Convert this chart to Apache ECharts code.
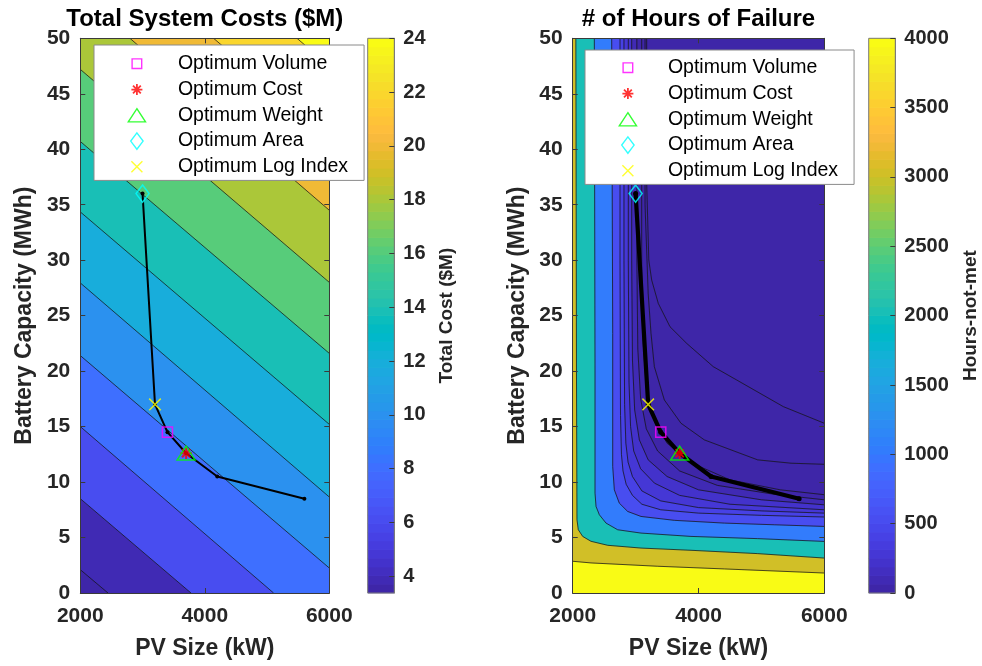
<!DOCTYPE html>
<html><head><meta charset="utf-8">
<script src="https://cdn.jsdelivr.net/npm/echarts@6/dist/echarts.min.js"></script>
<style>html,body{margin:0;padding:0;background:#fff}#c{width:982px;height:666px}</style>
</head><body><div id="c"></div>
<script>
// ================= DATA =================
const pvRange = [2000, 6000];
const battRange = [0, 50];

// Left panel: total system cost ($M) contour levels and the contour lines ([PV kW, Battery MWh])
const costLevels = [4, 6, 8, 10, 12, 14, 16, 18, 20, 22, 24];
const costClim = [3.38, 24];
const costLines = [
  [[2000, 2.1], [2445, 0]],
  [[2000, 8.5], [3778, 0]],
  [[2000, 15.0], [5105, 0]],
  [[2000, 21.4], [6000, 2.25]],
  [[2000, 27.95], [6000, 8.65]],
  [[2000, 34.35], [6000, 15.2]],
  [[2000, 40.7], [6000, 21.6]],
  [[2000, 47.2], [6000, 28.0]],
  [[2797, 50], [6000, 34.5]],
  [[4141, 50], [6000, 41.1]],
  [[5481, 50], [6000, 47.5]]
];

// Right panel: hours of failure contour levels and lines
const hoursLevels = [10, 25, 50, 100, 200, 300, 400, 500, 1000, 2000, 3000, 4000];
const hoursClim = [0, 4000];
const hoursLines = [
  [[3176, 50], [3176, 37], [3210, 30], [3256, 28.2], [3361, 26.1], [3547, 24], [3812, 22.5], [4235, 20.4], [4607, 19.2], [5348, 16.8], [6000, 15.3]],
  [[3150, 50], [3150, 35], [3200, 27], [3245, 23.4], [3298, 20.4], [3457, 17.4], [3722, 15.3], [4093, 13.8], [4517, 12.9], [4941, 12.0], [5470, 11.7], [6000, 11.6]],
  [[3097, 50], [3097, 30], [3115, 23], [3170, 18.5], [3280, 15.8], [3500, 13.5], [3900, 11.7], [4500, 10.2], [5300, 9.3], [6000, 8.86]],
  [[3020, 50], [3020, 30], [3035, 22], [3080, 17.5], [3170, 14.8], [3350, 12.8], [3700, 11], [4300, 9.7], [5200, 8.9], [6000, 8.4]],
  [[2938, 50], [2938, 30], [2950, 21], [2985, 16.5], [3060, 13.8], [3200, 12], [3500, 10.5], [4000, 9.3], [5000, 8.4], [6000, 7.95]],
  [[2884, 50], [2884, 30], [2895, 19], [2920, 15], [2970, 12.8], [3080, 11.2], [3300, 9.9], [3700, 8.8], [4500, 8.0], [6000, 7.5]],
  [[2815, 50], [2815, 30], [2825, 17], [2845, 13.5], [2880, 11.8], [2950, 10.5], [3100, 9.2], [3400, 8.3], [4000, 7.7], [5000, 7.4], [6000, 7.2]],
  [[2752, 50], [2752, 30], [2760, 16], [2775, 12.5], [2800, 11], [2850, 9.8], [2950, 8.8], [3100, 8.0], [3400, 7.5], [4000, 7.2], [5000, 7.0], [6000, 6.85]],
  [[2620, 50], [2636, 23.4], [2636, 11.4], [2662, 9.3], [2741, 8.1], [2874, 7.35], [3086, 6.9], [3616, 6.55], [4411, 6.3], [5206, 6.15], [6000, 6.0]],
  [[2344, 50], [2355, 20], [2355, 9.0], [2371, 7.8], [2424, 7.05], [2530, 6.3], [2715, 5.7], [3086, 5.4], [3881, 5.1], [4941, 4.9], [6000, 4.65]],
  [[2050, 50], [2060, 20], [2068, 6.6], [2089, 5.7], [2159, 5.1], [2291, 4.66], [2556, 4.3], [3086, 4.05], [3881, 3.85], [4941, 3.55], [6000, 3.15]],
  [[2000, 2.86], [2291, 2.71], [3351, 2.41], [4411, 2.17], [6000, 1.8]]
];

// Optimum trade-off path and the optimum points
const pathPV = [3000, 3200, 3400, 3700, 4200, 5600];
const pathBatt = [36, 17, 14.5, 12.6, 10.5, 8.5];
const optNames = ['Optimum Volume', 'Optimum Cost', 'Optimum Weight', 'Optimum Area', 'Optimum Log Index'];
const optPV = [3400, 3700, 3700, 3000, 3200];
const optBatt = [14.5, 12.6, 12.6, 36, 17];

const costBarTicks = [4, 6, 8, 10, 12, 14, 16, 18, 20, 22, 24];
const hoursBarTicks = [0, 500, 1000, 1500, 2000, 2500, 3000, 3500, 4000];

// ================= STYLE =================
const FONT = "'Liberation Sans', Arial, Helvetica, sans-serif";
const AX = '#3a3a3a', TXT = '#262626';
const PARULA = [
[0.2422,0.1504,0.6603],[0.2504,0.1650,0.7076],[0.2578,0.1818,0.7511],[0.2647,0.1978,0.7952],
[0.2706,0.2147,0.8364],[0.2751,0.2342,0.8710],[0.2783,0.2559,0.8991],[0.2803,0.2782,0.9221],
[0.2813,0.3006,0.9414],[0.2810,0.3228,0.9579],[0.2795,0.3447,0.9717],[0.2760,0.3667,0.9829],
[0.2699,0.3892,0.9906],[0.2602,0.4123,0.9952],[0.2440,0.4358,0.9988],[0.2206,0.4603,0.9973],
[0.1963,0.4847,0.9892],[0.1834,0.5074,0.9798],[0.1786,0.5289,0.9682],[0.1764,0.5499,0.9520],
[0.1687,0.5703,0.9359],[0.1540,0.5902,0.9218],[0.1460,0.6091,0.9079],[0.1380,0.6276,0.8973],
[0.1248,0.6459,0.8883],[0.1113,0.6635,0.8763],[0.0952,0.6798,0.8598],[0.0689,0.6948,0.8394],
[0.0297,0.7082,0.8163],[0.0036,0.7203,0.7917],[0.0067,0.7312,0.7660],[0.0433,0.7411,0.7394],
[0.0964,0.7500,0.7120],[0.1408,0.7584,0.6842],[0.1717,0.7670,0.6554],[0.1938,0.7758,0.6251],
[0.2161,0.7843,0.5923],[0.2470,0.7918,0.5567],[0.2906,0.7973,0.5188],[0.3406,0.8008,0.4789],
[0.3909,0.8029,0.4354],[0.4456,0.8024,0.3909],[0.5044,0.7993,0.3480],[0.5616,0.7942,0.3045],
[0.6174,0.7876,0.2612],[0.6720,0.7793,0.2227],[0.7242,0.7698,0.1910],[0.7738,0.7598,0.1646],
[0.8203,0.7498,0.1535],[0.8634,0.7406,0.1596],[0.9035,0.7330,0.1774],[0.9393,0.7288,0.2100],
[0.9728,0.7298,0.2394],[0.9956,0.7434,0.2371],[0.9970,0.7659,0.2199],[0.9952,0.7893,0.2028],
[0.9892,0.8136,0.1885],[0.9786,0.8386,0.1766],[0.9676,0.8639,0.1643],[0.9610,0.8890,0.1537],
[0.9597,0.9135,0.1423],[0.9628,0.9373,0.1265],[0.9691,0.9606,0.1064],[0.9769,0.9839,0.0805]];
function rgb(c) { return 'rgb(' + c.map(x => Math.round(x * 255)).join(',') + ')'; }
function parula(v, clim) {
  let k = Math.floor((v - clim[0]) / (clim[1] - clim[0]) * 64);
  k = Math.max(0, Math.min(63, k));
  return rgb(PARULA[k]);
}
const plain = v => String(Math.round(v * 1000) / 1000);

// marker icons (20x20 frame so all share one scale)
const FRAME = 'M0,0L0,0M20,20L20,20';
const SYM = [
  'path://' + FRAME + 'M5.2,5.2L14.8,5.2L14.8,14.8L5.2,14.8Z',
  'path://' + FRAME + 'M10,4.5L10,15.5M4.5,10L15.5,10M6.1,6.1L13.9,13.9M13.9,6.1L6.1,13.9',
  'path://' + FRAME + 'M10,3.3L18.6,16.5L1.4,16.5Z',
  'path://' + FRAME + 'M10,1.8L16.2,10L10,18.2L3.8,10Z',
  'path://' + FRAME + 'M4.5,4.5L15.5,15.5M15.5,4.5L4.5,15.5'
];
const SYMCOL = ['#ff00ff', '#ff0000', '#00ff00', '#00ffff', '#ffff00'];

// ================= contour geometry helpers =================
function edgeParam(p) {
  const u = (p[0] - pvRange[0]) / (pvRange[1] - pvRange[0]);
  const v = (p[1] - battRange[0]) / (battRange[1] - battRange[0]);
  const e = 1e-3;
  if (u <= e) return v;
  if (v >= 1 - e) return 1 + u;
  if (u >= 1 - e) return 2 + (1 - v);
  return 3 + (1 - u);
}
const CORNERS = [[1, [pvRange[0], battRange[1]]], [2, [pvRange[1], battRange[1]]], [3, [pvRange[1], battRange[0]]]];
function regionBeyond(line) {
  const s0 = edgeParam(line[0]), s1 = edgeParam(line[line.length - 1]);
  const pts = line.slice();
  for (let k = CORNERS.length - 1; k >= 0; k--) {
    if (CORNERS[k][0] > s0 && CORNERS[k][0] < s1) pts.push(CORNERS[k][1]);
  }
  return pts;
}
const RECT = [[pvRange[0], battRange[0]], [pvRange[0], battRange[1]], [pvRange[1], battRange[1]], [pvRange[1], battRange[0]]];

const costLayers = [{ pts: RECT, color: parula(costClim[0], costClim) }];
costLevels.forEach((L, i) => costLayers.push({ pts: regionBeyond(costLines[i]), color: parula(L, costClim) }));
const hoursLayers = [{ pts: RECT, color: parula(hoursLevels[hoursLevels.length - 1], hoursClim) }];
for (let i = hoursLevels.length - 1; i >= 0; i--) {
  hoursLayers.push({ pts: regionBeyond(hoursLines[i]), color: parula(i > 0 ? hoursLevels[i - 1] : hoursClim[0], hoursClim) });
}

function fillSeries(layers, ax) {
  return {
    type: 'custom', xAxisIndex: ax, yAxisIndex: ax, clip: true, silent: true, z: 1, animation: false,
    data: layers.map((l, i) => [l.pts[0][0], l.pts[0][1], i]),
    renderItem: (params, api) => {
      const l = layers[api.value(2)];
      return { type: 'polygon', shape: { points: l.pts.map(p => api.coord(p)) },
        style: { fill: l.color, stroke: l.color, lineWidth: 0.3 } };
    }
  };
}
function lineSeries(lines, ax) {
  return {
    type: 'custom', xAxisIndex: ax, yAxisIndex: ax, clip: true, silent: true, z: 2, animation: false,
    data: lines.map((ln, i) => [ln[0][0], ln[0][1], i]),
    renderItem: (params, api) => {
      const ln = lines[api.value(2)];
      return { type: 'polyline', shape: { points: ln.map(p => api.coord(p)) },
        style: { stroke: '#151515', lineWidth: 0.75, fill: null } };
    }
  };
}
function colorbarSeries(clim, ax) {
  const n = 64, step = (clim[1] - clim[0]) / n;
  const data = [];
  for (let i = 0; i <= n; i++) data.push([0.5, clim[0] + (i + 0.5) * step, i]);
  return {
    type: 'custom', xAxisIndex: ax, yAxisIndex: ax, silent: true, z: 1, animation: false, data,
    renderItem: (params, api) => {
      const i = api.value(2);
      if (i === n) {
        const a = api.coord([0, clim[1]]), b = api.coord([1, clim[0]]);
        return { type: 'rect', shape: { x: a[0], y: a[1], width: b[0] - a[0], height: b[1] - a[1] },
          style: { fill: null, stroke: '#7a7a7a', lineWidth: 1 }, z2: 10 };
      }
      const a = api.coord([0, clim[0] + (i + 1) * step]), b = api.coord([1, clim[0] + i * step]);
      return { type: 'rect', shape: { x: a[0], y: a[1] - 0.3, width: b[0] - a[0], height: b[1] - a[1] + 0.6 },
        style: { fill: rgb(PARULA[i]) } };
    }
  };
}

function xAx(grid, pos, labels) {
  return {
    type: 'value', gridIndex: grid, position: pos, min: pvRange[0], max: pvRange[1], interval: 2000, z: 10,
    name: labels ? 'PV Size (kW)' : '', nameLocation: 'middle', nameGap: 44,
    nameTextStyle: { fontSize: 23, fontWeight: 'bold', fontFamily: FONT, color: TXT },
    axisLine: { show: true, onZero: false, lineStyle: { color: AX, width: 1 } },
    axisTick: { show: true, inside: true, length: 5, lineStyle: { color: AX } },
    axisLabel: { show: labels, margin: 13, fontSize: 21, fontWeight: 'bold', fontFamily: FONT, color: TXT,
      showMinLabel: true, showMaxLabel: true, formatter: plain },
    splitLine: { show: false }
  };
}
function yAx(grid, pos, labels) {
  return {
    type: 'value', gridIndex: grid, position: pos, min: battRange[0], max: battRange[1], interval: 5, z: 10,
    name: labels ? 'Battery Capacity (MWh)' : '', nameLocation: 'middle', nameGap: 44, nameRotate: 90,
    nameTextStyle: { fontSize: 23, fontWeight: 'bold', fontFamily: FONT, color: TXT },
    axisLine: { show: true, onZero: false, lineStyle: { color: AX, width: 1 } },
    axisTick: { show: true, inside: true, length: 5, lineStyle: { color: AX } },
    axisLabel: { show: labels, margin: 10, fontSize: 21, fontWeight: 'bold', fontFamily: FONT, color: TXT,
      showMinLabel: true, showMaxLabel: true, formatter: plain },
    splitLine: { show: false }
  };
}
function cbAx(grid, clim, ticks, name, gap) {
  return {
    type: 'value', gridIndex: grid, position: 'right', min: clim[0], max: clim[1], z: 10,
    name, nameLocation: 'middle', nameGap: gap, nameRotate: 90,
    nameTextStyle: { fontSize: 19, fontWeight: 'bold', fontFamily: FONT, color: TXT },
    axisLine: { show: true, onZero: false, lineStyle: { color: '#7a7a7a', width: 1 } },
    axisTick: { show: true, inside: true, length: 5, customValues: ticks, lineStyle: { color: AX } },
    axisLabel: { show: true, margin: 9, customValues: ticks, fontSize: 20, fontWeight: 'bold', fontFamily: FONT, color: TXT,
      showMinLabel: true, showMaxLabel: true, formatter: plain },
    splitLine: { show: false }
  };
}

function markerSeries(ax) {
  const s = optNames.map((n, k) => ({
    type: 'scatter', name: n, xAxisIndex: ax, yAxisIndex: ax, z: 5, animation: false, silent: true,
    data: [[optPV[k], optBatt[k]]], symbol: SYM[k], symbolSize: 21, symbolKeepAspect: true,
    itemStyle: { color: 'rgba(0,0,0,0)', borderColor: SYMCOL[k], borderWidth: k === 1 ? 2 : 1.5 }
  }));
  s.unshift({
    type: 'line', xAxisIndex: ax, yAxisIndex: ax, z: 4, animation: false, silent: true,
    data: pathPV.map((x, i) => [x, pathBatt[i]]), symbol: 'circle', symbolSize: ax === 0 ? 4 : 5, showSymbol: true,
    lineStyle: { color: '#000', width: ax === 0 ? 2 : 4.2 }, itemStyle: { color: '#000' }
  });
  return s;
}
function legendFor(left, top, itemW, padL, padR, padT, padB) {
  return {
    orient: 'vertical', left, top, itemWidth: itemW, itemHeight: 20, itemGap: 4.25,
    symbolKeepAspect: true, selectedMode: false, z: 20,
    padding: [padT, padR, padB, padL], backgroundColor: '#fff', borderColor: '#8a8a8a', borderWidth: 1, borderRadius: 0,
    textStyle: { fontSize: 19.5, fontFamily: FONT, color: '#000', lineHeight: 20 },
    data: optNames.map((n, k) => ({ name: n, icon: SYM[k],
      itemStyle: { color: 'rgba(0,0,0,0)', borderColor: SYMCOL[k], borderWidth: k === 1 ? 1.8 : 1.4 } }))
  };
}

const chart = echarts.init(document.getElementById('c'), null, { renderer: 'canvas' });
chart.setOption({
  backgroundColor: '#fff',
  animation: false,
  title: [
    { text: 'Total System Costs ($M)', left: 204.8, top: 7, textAlign: 'center', padding: 0,
      textStyle: { fontSize: 24, fontWeight: 'bold', fontFamily: FONT, color: '#000' } },
    { text: '# of Hours of Failure', left: 698.5, top: 7, textAlign: 'center', padding: 0,
      textStyle: { fontSize: 24, fontWeight: 'bold', fontFamily: FONT, color: '#000' } }
  ],
  grid: [
    { left: 80.3, top: 38.3, width: 249, height: 554.7, containLabel: false, outerBoundsMode: 'none' },
    { left: 572.7, top: 38.3, width: 251.6, height: 554.7, containLabel: false, outerBoundsMode: 'none' },
    { left: 367.7, top: 38.3, width: 26.6, height: 554.7, containLabel: false, outerBoundsMode: 'none' },
    { left: 868.7, top: 38.3, width: 26.6, height: 554.7, containLabel: false, outerBoundsMode: 'none' }
  ],
  xAxis: [
    xAx(0, 'bottom', true), xAx(1, 'bottom', true),
    { type: 'value', gridIndex: 2, min: 0, max: 1, show: false },
    { type: 'value', gridIndex: 3, min: 0, max: 1, show: false },
    xAx(0, 'top', false), xAx(1, 'top', false)
  ],
  yAxis: [
    yAx(0, 'left', true), yAx(1, 'left', true),
    cbAx(2, costClim, costBarTicks, 'Total Cost ($M)', 43),
    cbAx(3, hoursClim, hoursBarTicks, 'Hours-not-met', 66),
    yAx(0, 'right', false), yAx(1, 'right', false)
  ],
  legend: [legendFor(94, 45, 72, 32, 16, 8, 3), legendFor(585, 50, 70, 32, 16, 7, 3)],
  series: [
    fillSeries(costLayers, 0), lineSeries(costLines, 0),
    fillSeries(hoursLayers, 1), lineSeries(hoursLines, 1),
    colorbarSeries(costClim, 2), colorbarSeries(hoursClim, 3)
  ].concat(markerSeries(0), markerSeries(1))
});
</script>
</body></html>
